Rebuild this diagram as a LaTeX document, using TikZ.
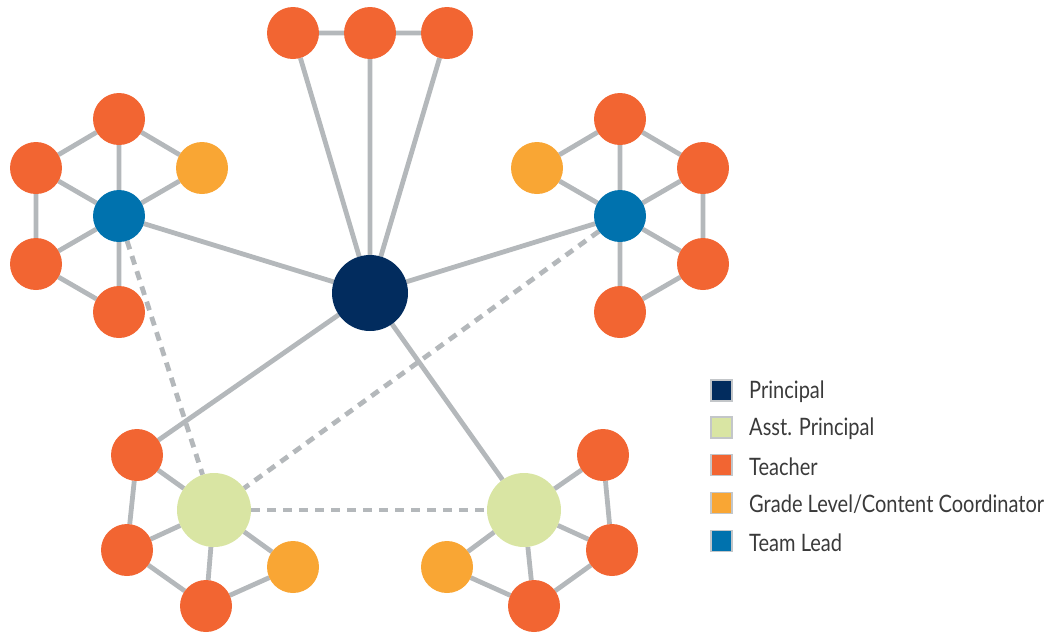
\documentclass[tikz,border=0pt]{standalone}
\usepackage{fontspec}
\setmainfont{Lato}
\usetikzlibrary{backgrounds}
\definecolor{navy}{HTML}{022C5E}
\definecolor{apgreen}{HTML}{D9E5A3}
\definecolor{teach}{HTML}{F26532}
\definecolor{coord}{HTML}{F9A634}
\definecolor{lead}{HTML}{0072AE}
\definecolor{link}{HTML}{B4B8BB}
\definecolor{txt}{HTML}{3A3A3A}
\tikzset{
  circ/.style={circle, inner sep=0pt, outer sep=0pt},
  teacher/.style={circ, fill=teach, minimum size=52pt},
  coordinator/.style={circ, fill=coord, minimum size=52pt},
  teamlead/.style={circ, fill=lead, minimum size=52pt},
  asst/.style={circ, fill=apgreen, minimum size=74pt},
  principal/.style={circ, fill=navy, minimum size=76pt},
  solidlink/.style={draw=link, line width=4.8pt},
  dashlink/.style={draw=link, line width=4.8pt, dash pattern=on 9pt off 7pt},
  legbox/.style={draw=link!80, line width=1.5pt, minimum size=21pt, inner sep=0pt},
  legtext/.style={anchor=west, inner sep=0pt, text=txt, font=\fontsize{24}{24}\selectfont}
}
\newcommand{\legscale}[1]{\scalebox{0.835}[1]{#1}}
\begin{document}
\begin{tikzpicture}[x=1pt, y=-1pt]
\useasboundingbox (0,0) rectangle (1056,633);
% principal
\node[principal] (P) at (370,293) {};
% top teachers
\node[teacher] (t1) at (293,33) {};
\node[teacher] (t2) at (370,33) {};
\node[teacher] (t3) at (447,33) {};
% top-left cluster
\node[teamlead] (L1) at (119,216) {};
\node[teacher] (a1) at (119,119) {};
\node[teacher] (a2) at (36,168) {};
\node[teacher] (a3) at (36,264) {};
\node[teacher] (a4) at (119,312) {};
\node[coordinator] (ac) at (202,168) {};
% top-right cluster
\node[teamlead] (L2) at (620,216) {};
\node[teacher] (b1) at (620,119) {};
\node[teacher] (b2) at (703,168) {};
\node[teacher] (b3) at (703,264) {};
\node[teacher] (b4) at (620,312) {};
\node[coordinator] (bc) at (537,168) {};
% bottom-left cluster
\node[asst] (A1) at (214,510) {};
\node[teacher] (c1) at (137,455) {};
\node[teacher] (c2) at (127,550) {};
\node[teacher] (c3) at (206,606) {};
\node[coordinator] (cc) at (293,567) {};
% bottom-right cluster
\node[asst] (A2) at (524,510) {};
\node[teacher] (d1) at (603,455) {};
\node[teacher] (d2) at (612,550) {};
\node[teacher] (d3) at (534,606) {};
\node[coordinator] (dc) at (447,567) {};

\begin{scope}[on background layer]
% principal links
\path[solidlink] (P) -- (t1) (P) -- (t2) (P) -- (t3)
  (t1) -- (t2) -- (t3)
  (P) -- (L1) (P) -- (L2) (P) -- (c1) (P) -- (A2);
% top-left cluster
\path[solidlink] (L1) -- (a1) (L1) -- (a2) (L1) -- (a3) (L1) -- (a4) (L1) -- (ac)
  (a2) -- (a1) -- (ac) (a2) -- (a3) -- (a4);
% top-right cluster
\path[solidlink] (L2) -- (b1) (L2) -- (b2) (L2) -- (b3) (L2) -- (b4) (L2) -- (bc)
  (bc) -- (b1) -- (b2) -- (b3) -- (b4);
% bottom-left cluster
\path[solidlink] (A1) -- (c1) (A1) -- (c2) (A1) -- (c3) (A1) -- (cc)
  (c1) -- (c2) -- (c3) -- (cc);
% bottom-right cluster
\path[solidlink] (A2) -- (d1) (A2) -- (d2) (A2) -- (d3) (A2) -- (dc)
  (d1) -- (d2) -- (d3) -- (dc);
% dashed links
\path[dashlink] (L1) -- (A1);
\path[dashlink] (L2) -- (A1);
\path[dashlink] (A1) -- (A2);
\end{scope}

% legend
\node[legbox, fill=navy] (k1) at (721.5,390.5) {};
\node[legbox, fill=apgreen] (k2) at (721.5,427.5) {};
\node[legbox, fill=teach] (k3) at (721.5,465) {};
\node[legbox, fill=coord] (k4) at (721.5,503) {};
\node[legbox, fill=lead] (k5) at (721.5,541) {};
\node[legtext] (l1) at (749,392) {\legscale{Principal}};
\node[legtext] (l2) at (749,429) {\legscale{Asst. Principal}};
\node[legtext] (l3) at (749,466.5) {\legscale{Teacher}};
\node[legtext] (l4) at (749,504.5) {\legscale{Grade Level/Content Coordinator}};
\node[legtext] (l5) at (749,542.5) {\legscale{Team Lead}};
\end{tikzpicture}
\end{document}
